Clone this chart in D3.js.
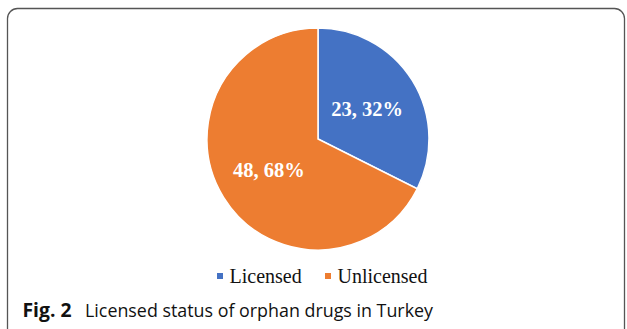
<!DOCTYPE html>
<html>
<head>
<meta charset="utf-8">
<script src="https://cdn.jsdelivr.net/npm/d3@7"></script>
<style>
  html, body { margin: 0; padding: 0; background: #fff; }
</style>
</head>
<body>
<div id="chart"></div>
<script>
// data
var categories = ["Licensed", "Unlicensed"];
var counts = [23, 48];
var colors = ["#4472C4", "#ED7D31"];

var width = 627, height = 329;
var cx = 318, cy = 139, radius = 111;

var svg = d3.select("#chart").append("svg")
    .attr("width", width)
    .attr("height", height);

// rounded frame
svg.append("rect")
    .attr("x", 7.5)
    .attr("y", 8.5)
    .attr("width", 617)
    .attr("height", 330)
    .attr("rx", 10)
    .attr("fill", "none")
    .attr("stroke", "#555")
    .attr("stroke-width", 1.3);

var total = d3.sum(counts);
var data = categories.map(function(c, i) {
    return { name: c, value: counts[i], color: colors[i] };
});

var pie = d3.pie()
    .sort(null)
    .value(function(d) { return d.value; });

var arc = d3.arc().innerRadius(0).outerRadius(radius);
var labelArc = d3.arc().innerRadius(radius * 0.52).outerRadius(radius * 0.52);

var g = svg.append("g")
    .attr("transform", "translate(" + cx + "," + cy + ")");

var slices = g.selectAll(".slice")
    .data(pie(data))
    .enter().append("g")
    .attr("class", "slice");

slices.append("path")
    .attr("d", arc)
    .attr("fill", function(d) { return d.data.color; })
    .attr("stroke", "#fff")
    .attr("stroke-width", 1.5);

slices.append("text")
    .attr("transform", function(d) { return "translate(" + labelArc.centroid(d) + ")"; })
    .attr("text-anchor", "middle")
    .attr("dy", "0.35em")
    .style("font-family", "'Liberation Serif', 'Times New Roman', serif")
    .style("font-weight", "bold")
    .style("font-size", "20.5px")
    .attr("fill", "#fff")
    .text(function(d) {
        return d.data.value + ", " + Math.round(d.data.value / total * 100) + "%";
    });

// legend
var legendX = [217, 325];
var legend = svg.selectAll(".legend")
    .data(data)
    .enter().append("g")
    .attr("class", "legend")
    .attr("transform", function(d, i) { return "translate(" + legendX[i] + ",273)"; });

legend.append("rect")
    .attr("width", 6)
    .attr("height", 6)
    .attr("fill", function(d) { return d.color; });

legend.append("text")
    .attr("x", 12.5)
    .attr("y", 9.7)
    .style("font-family", "'Liberation Serif', 'Times New Roman', serif")
    .style("font-size", "20px")
    .attr("fill", "#111")
    .text(function(d) { return d.name; });

// caption
var caption = svg.append("g")
    .style("font-family", "'Open Sans', 'Noto Sans', sans-serif")
    .style("font-size", "19px")
    .attr("fill", "#111");

caption.append("text")
    .attr("x", 22.5)
    .attr("y", 316.5)
    .style("font-weight", "bold")
    .attr("textLength", 49)
    .attr("lengthAdjust", "spacingAndGlyphs")
    .text("Fig. 2");

caption.append("text")
    .attr("x", 85)
    .attr("y", 316.5)
    .attr("textLength", 348)
    .attr("lengthAdjust", "spacingAndGlyphs")
    .text("Licensed status of orphan drugs in Turkey");
</script>
</body>
</html>
